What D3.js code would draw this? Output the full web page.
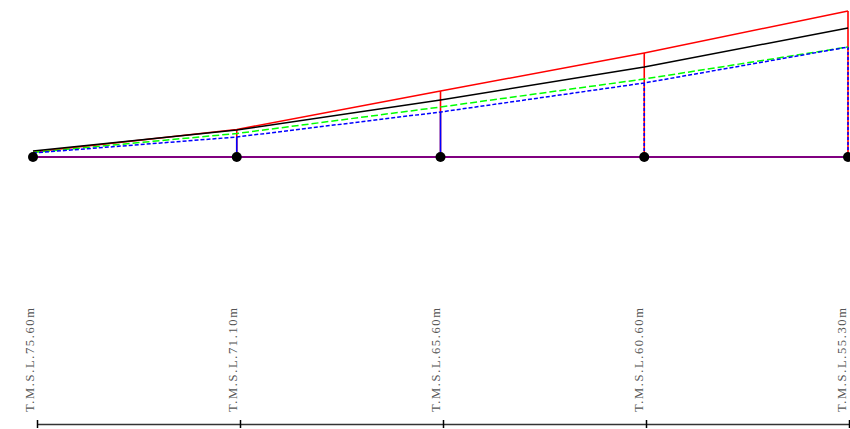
<!DOCTYPE html>
<html><head><meta charset="utf-8">
<script src="https://cdn.jsdelivr.net/npm/d3@7"></script>
<style>html,body{margin:0;padding:0;background:#fff;}svg{display:block;}</style>
</head><body>
<svg id="chart" width="850" height="429"></svg>
<script>
const stations = ["T.M.S.L.75.60m","T.M.S.L.71.10m","T.M.S.L.65.60m","T.M.S.L.60.60m","T.M.S.L.55.30m"];
const redLine   = [5, 27.5, 66, 104, 146];
const blackLine = [6, 27, 57, 90, 129];
const greenLine = [4.5, 23.5, 50, 78, 110];
const blueLine  = [4, 20, 45, 74, 110];
const baseLine  = [0, 0, 0, 0, 0];

const svg = d3.select("#chart");
const x = d3.scalePoint().domain(d3.range(stations.length)).range([33, 848]);
const y = d3.scaleLinear().domain([0, 146]).range([157, 11]);
const xAxisScale = d3.scalePoint().domain(stations).range([37, 849]);

const line = d3.line().x((d,i)=>x(i)).y(d=>y(d));

// verticals
stations.forEach((s,i)=>{
  if (i===0) return;
  svg.append("line").attr("x1",x(i)).attr("x2",x(i))
    .attr("y1",y(redLine[i])).attr("y2",y(baseLine[i]))
    .attr("stroke","#ff0000").attr("stroke-width",1.6);
  svg.append("line").attr("x1",x(i)).attr("x2",x(i))
    .attr("y1",y(blueLine[i])).attr("y2",y(baseLine[i]))
    .attr("stroke","#0000ff").attr("stroke-width",1.6)
    .attr("stroke-dasharray", i>=3 ? "3,2" : null);
});

svg.append("path").datum(baseLine).attr("d",line).attr("fill","none")
  .attr("stroke","#800080").attr("stroke-width",2);
svg.append("path").datum(redLine).attr("d",line).attr("fill","none")
  .attr("stroke","#ff0000").attr("stroke-width",1.5);
svg.append("path").datum(blackLine).attr("d",line).attr("fill","none")
  .attr("stroke","#000000").attr("stroke-width",1.5);
svg.append("path").datum(greenLine).attr("d",line).attr("fill","none")
  .attr("stroke","#00ff00").attr("stroke-width",1.5).attr("stroke-dasharray","7,3");
svg.append("path").datum(blueLine).attr("d",line).attr("fill","none")
  .attr("stroke","#0000ff").attr("stroke-width",1.5).attr("stroke-dasharray","4,2");

svg.selectAll("circle.pt").data(baseLine).join("circle").attr("class","pt")
  .attr("cx",(d,i)=>x(i)).attr("cy",d=>y(d)).attr("r",5).attr("fill","#000");

// bottom axis
const axisG = svg.append("g").attr("transform","translate(0,424)")
  .call(d3.axisBottom(xAxisScale).tickSize(4).tickSizeOuter(0).tickFormat(""));
axisG.select(".domain").attr("stroke","#333").attr("stroke-width",1.5);
axisG.selectAll(".tick line").attr("y1",-4).attr("y2",4).attr("stroke","#000").attr("stroke-width",1.5);

svg.selectAll("text.lbl").data(stations).join("text").attr("class","lbl")
  .attr("transform",(d)=>`translate(${xAxisScale(d)-3},412) rotate(-90)`)
  .attr("text-anchor","start")
  .attr("font-family","'Liberation Serif','DejaVu Serif',serif")
  .attr("font-size",12.5).attr("fill","#555")
  .attr("textLength",104).attr("lengthAdjust","spacing")
  .text(d=>d);
</script>
</body></html>
